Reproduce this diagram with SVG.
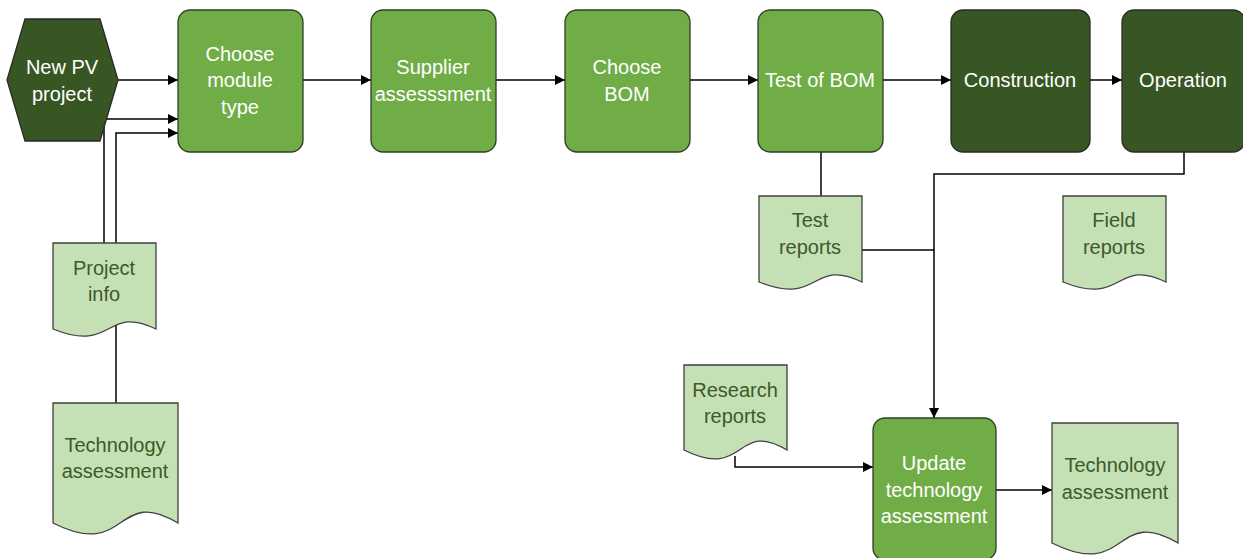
<svg xmlns="http://www.w3.org/2000/svg" width="1243" height="558" viewBox="0 0 1243 558">
<style>
.proc{fill:#70AD47;stroke:#2F3F28;stroke-width:1.3}
.dark{fill:#375623;stroke:#2A2A2A;stroke-width:1.3}
.doc{fill:#C5E0B4;stroke:#404040;stroke-width:1.3}
.wt{font-family:"Liberation Sans",Arial,sans-serif;font-size:20px;fill:#FFFFFF;text-anchor:middle}
.gt{font-family:"Liberation Sans",Arial,sans-serif;font-size:20px;fill:#3B5A2A;text-anchor:middle}
.ln{fill:none;stroke:#000;stroke-width:1.5}
</style>
<defs>
<marker id="ah" viewBox="0 0 10 10" refX="10" refY="5" markerWidth="12" markerHeight="10" markerUnits="userSpaceOnUse" orient="auto">
<path d="M0,0 L10,5 L0,10 z" fill="#000"/>
</marker>
</defs>
<g id="connectors">
<path class="ln" d="M118,80 H178" marker-end="url(#ah)"/>
<path class="ln" d="M104,243 V119 H178" marker-end="url(#ah)"/>
<path class="ln" d="M116,403 V133 H178" marker-end="url(#ah)"/>
<path class="ln" d="M303,80 H371" marker-end="url(#ah)"/>
<path class="ln" d="M496,80 H565" marker-end="url(#ah)"/>
<path class="ln" d="M690,80 H758" marker-end="url(#ah)"/>
<path class="ln" d="M883,80 H951" marker-end="url(#ah)"/>
<path class="ln" d="M1090,80 H1122" marker-end="url(#ah)"/>
<path class="ln" d="M821,152 V196"/>
<path class="ln" d="M862,250 H934"/>
<path class="ln" d="M1184,152 V174 H934 V418" marker-end="url(#ah)"/>
<path class="ln" d="M735,456 V467 H873" marker-end="url(#ah)"/>
<path class="ln" d="M996,490 H1052" marker-end="url(#ah)"/>
</g>
<g id="new-pv-project">
<polygon class="dark" points="7,80 25,19 100,19 118,80 100,141 25,141"/>
<text class="wt" x="62" y="74">New PV</text>
<text class="wt" x="62" y="101">project</text>
</g>
<g id="choose-module-type">
<rect class="proc" x="178" y="10" width="125" height="142" rx="12"/>
<text class="wt" x="240" y="61">Choose</text>
<text class="wt" x="240" y="87">module</text>
<text class="wt" x="240" y="114">type</text>
</g>
<g id="supplier-assessment">
<rect class="proc" x="371" y="10" width="125" height="142" rx="12"/>
<text class="wt" x="433" y="74">Supplier</text>
<text class="wt" x="433" y="101">assesssment</text>
</g>
<g id="choose-bom">
<rect class="proc" x="565" y="10" width="125" height="142" rx="12"/>
<text class="wt" x="627" y="74">Choose</text>
<text class="wt" x="627" y="101">BOM</text>
</g>
<g id="test-of-bom">
<rect class="proc" x="758" y="10" width="125" height="142" rx="12"/>
<text class="wt" x="820" y="87">Test of BOM</text>
</g>
<g id="construction">
<rect class="dark" x="951" y="10" width="139" height="142" rx="12"/>
<text class="wt" x="1020" y="87">Construction</text>
</g>
<g id="operation">
<rect class="dark" x="1122" y="10" width="123" height="142" rx="12"/>
<text class="wt" x="1183" y="87">Operation</text>
</g>
<g id="project-info">
<path class="doc" d="M53,243 H156 V329 C104.5,304 114.8,354 53,329 Z"/>
<text class="gt" x="104" y="275">Project</text>
<text class="gt" x="104" y="301">info</text>
</g>
<g id="technology-assessment-left">
<path class="doc" d="M53,403 H178 V523 C115.5,485 128,561 53,523 Z"/>
<text class="gt" x="115" y="452">Technology</text>
<text class="gt" x="115" y="478">assessment</text>
</g>
<g id="test-reports">
<path class="doc" d="M759,196 H862 V282 C810.5,257 820.8,307 759,282 Z"/>
<text class="gt" x="810" y="227">Test</text>
<text class="gt" x="810" y="254">reports</text>
</g>
<g id="field-reports">
<path class="doc" d="M1063,196 H1166 V282 C1114.5,257 1124.8,307 1063,282 Z"/>
<text class="gt" x="1114" y="227">Field</text>
<text class="gt" x="1114" y="254">reports</text>
</g>
<g id="research-reports">
<path class="doc" d="M684,365 H787 V450 C735.5,419 745.8,481 684,450 Z"/>
<text class="gt" x="735" y="397">Research</text>
<text class="gt" x="735" y="423">reports</text>
</g>
<g id="update-technology-assessment">
<rect class="proc" x="873" y="418" width="123" height="142" rx="12"/>
<text class="wt" x="934" y="470">Update</text>
<text class="wt" x="934" y="497">technology</text>
<text class="wt" x="934" y="523">assessment</text>
</g>
<g id="technology-assessment-right">
<path class="doc" d="M1052,423 H1178 V543 C1115,505 1127.6,581 1052,543 Z"/>
<text class="gt" x="1115" y="472">Technology</text>
<text class="gt" x="1115" y="499">assessment</text>
</g>
</svg>
